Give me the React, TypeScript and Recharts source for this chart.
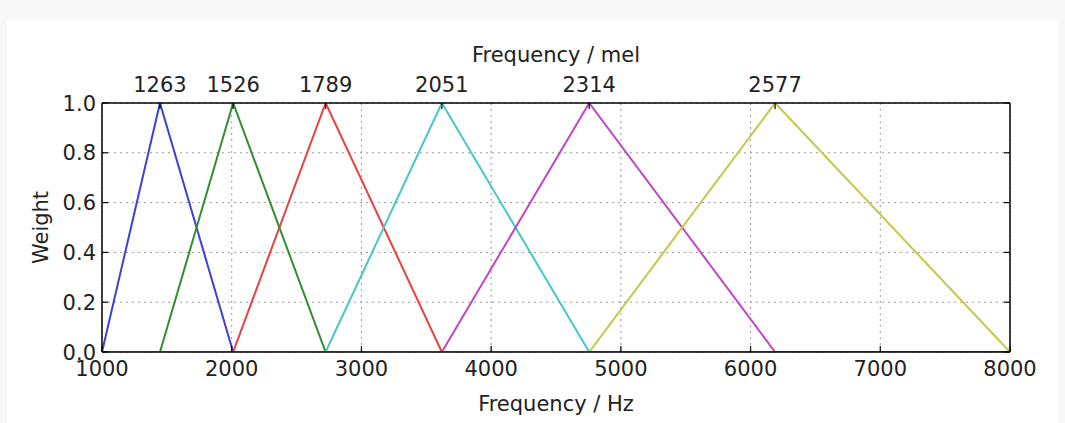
import React from 'react';
import { LineChart, Line, XAxis, YAxis, CartesianGrid, Label } from 'recharts';

// triangular mel filters, vertices in Hz
const filter1 = [{ f: 1000, w: 0 }, { f: 1447, w: 1 }, { f: 2011, w: 0 }, { f: 8000, w: 0 }];
const filter2 = [{ f: 1000, w: 0 }, { f: 1447, w: 0 }, { f: 2011, w: 1 }, { f: 2724, w: 0 }, { f: 8000, w: 0 }];
const filter3 = [{ f: 1000, w: 0 }, { f: 2011, w: 0 }, { f: 2724, w: 1 }, { f: 3620, w: 0 }, { f: 8000, w: 0 }];
const filter4 = [{ f: 1000, w: 0 }, { f: 2724, w: 0 }, { f: 3620, w: 1 }, { f: 4756, w: 0 }, { f: 8000, w: 0 }];
const filter5 = [{ f: 1000, w: 0 }, { f: 3620, w: 0 }, { f: 4756, w: 1 }, { f: 6189, w: 0 }, { f: 8000, w: 0 }];
const filter6 = [{ f: 1000, w: 0 }, { f: 4756, w: 0 }, { f: 6189, w: 1 }, { f: 8000, w: 0 }];

const hzTicks = [1000, 2000, 3000, 4000, 5000, 6000, 7000, 8000];
const weightTicks = [0, 0.2, 0.4, 0.6, 0.8, 1.0];
const melTickHz = [1447, 2011, 2724, 3620, 4756, 6189];
const melLabels = ['1263', '1526', '1789', '2051', '2314', '2577'];

const series = [
  { name: 'f1', data: filter1, color: '#3f3fdc' },
  { name: 'f2', data: filter2, color: '#2f8f2f' },
  { name: 'f3', data: filter3, color: '#ea4040' },
  { name: 'f4', data: filter4, color: '#44c8c8' },
  { name: 'f5', data: filter5, color: '#c444c4' },
  { name: 'f6', data: filter6, color: '#c4c848' },
];

const FONT = 'DejaVu Sans, sans-serif';
const FS = 21;
const TXT = '#222';
const TICK = 6;

const BottomTick = (props: any) => {
  const { x, y, payload } = props;
  const axisY = y - 9;
  return (
    <g>
      <line x1={x} x2={x} y1={axisY} y2={axisY - TICK} stroke="#000" strokeWidth={1.2} />
      <text x={x} y={y} dy="0.71em" textAnchor="middle" fontFamily={FONT} fontSize={FS} fill={TXT}>
        {payload.value}
      </text>
    </g>
  );
};

const TopTick = (props: any) => {
  const { x, y, payload } = props;
  const axisY = y + 11;
  const i = melTickHz.indexOf(payload.value);
  return (
    <g>
      <line x1={x} x2={x} y1={axisY} y2={axisY + TICK} stroke="#000" strokeWidth={1.2} />
      <text x={x} y={y} textAnchor="middle" fontFamily={FONT} fontSize={FS} fill={TXT}>
        {i >= 0 ? melLabels[i] : ''}
      </text>
    </g>
  );
};

const LeftTick = (props: any) => {
  const { x, y, payload } = props;
  const axisX = x + 6;
  return (
    <g>
      <line x1={axisX} x2={axisX + TICK} y1={y} y2={y} stroke="#000" strokeWidth={1.2} />
      <text x={x} y={y} dy="0.36em" textAnchor="end" fontFamily={FONT} fontSize={FS} fill={TXT}>
        {payload.value.toFixed(1)}
      </text>
    </g>
  );
};

const RightTick = (props: any) => {
  const { x, y } = props;
  return <line x1={x} x2={x - TICK} y1={y} y2={y} stroke="#000" strokeWidth={1.2} />;
};

const WeightLabel = (props: any) => {
  const vb = props.viewBox;
  const cx = vb.x + 40;
  const cy = vb.y + vb.height / 2;
  return (
    <text
      transform={`translate(${cx},${cy}) rotate(-90)`}
      textAnchor="middle"
      dy="0.36em"
      fontFamily={FONT}
      fontSize={FS}
      fill={TXT}
    >
      Weight
    </text>
  );
};

export default function App() {
  return (
    <div style={{ position: 'fixed', left: 0, top: 0, width: 1065, height: 423, background: '#f8f8f8' }}>
      <div style={{ position: 'absolute', left: 7, top: 21, width: 1052, height: 402, background: '#fff' }} />
      <div style={{ position: 'absolute', left: 0, top: 0 }}>
        <LineChart width={1065} height={423} margin={{ top: 20, right: 0, bottom: 0, left: 0 }}>
          <CartesianGrid stroke="#9a9a9a" strokeDasharray="2 4" strokeWidth={1} />
          <XAxis
            type="number"
            dataKey="f"
            domain={[1000, 8000]}
            ticks={hzTicks}
            interval={0}
            height={71}
            tickSize={0}
            tickMargin={9}
            tick={<BottomTick />}
            axisLine={{ stroke: '#000', strokeWidth: 1.5 }}
            allowDataOverflow
          >
            <Label
              value="Frequency / Hz"
              position="insideBottom"
              offset={12}
              style={{ fontFamily: FONT, fontSize: FS, fill: TXT }}
            />
          </XAxis>
          <XAxis
            xAxisId="top"
            orientation="top"
            type="number"
            dataKey="f"
            domain={[1000, 8000]}
            ticks={melTickHz}
            interval={0}
            height={83}
            tickSize={0}
            tickMargin={11}
            tick={<TopTick />}
            axisLine={{ stroke: '#000', strokeWidth: 1.5 }}
            allowDataOverflow
          >
            <Label
              value="Frequency / mel"
              position="insideTop"
              offset={27}
              style={{ fontFamily: FONT, fontSize: FS, fill: TXT }}
            />
          </XAxis>
          <YAxis
            type="number"
            domain={[0, 1]}
            ticks={weightTicks}
            interval={0}
            width={102}
            tickSize={0}
            tickMargin={6}
            tick={<LeftTick />}
            axisLine={{ stroke: '#000', strokeWidth: 1.5 }}
            allowDataOverflow
          >
            <Label content={<WeightLabel />} />
          </YAxis>
          <YAxis
            yAxisId="right"
            orientation="right"
            type="number"
            domain={[0, 1]}
            ticks={weightTicks}
            interval={0}
            width={55}
            tickSize={0}
            tickMargin={0}
            tick={<RightTick />}
            axisLine={{ stroke: '#000', strokeWidth: 1.5 }}
            allowDataOverflow
          />
          {series.map((s) => (
            <Line
              key={s.name}
              data={s.data}
              dataKey="w"
              type="linear"
              stroke={s.color}
              strokeWidth={2}
              dot={false}
              activeDot={false}
              isAnimationActive={false}
            />
          ))}
        </LineChart>
      </div>
    </div>
  );
}
